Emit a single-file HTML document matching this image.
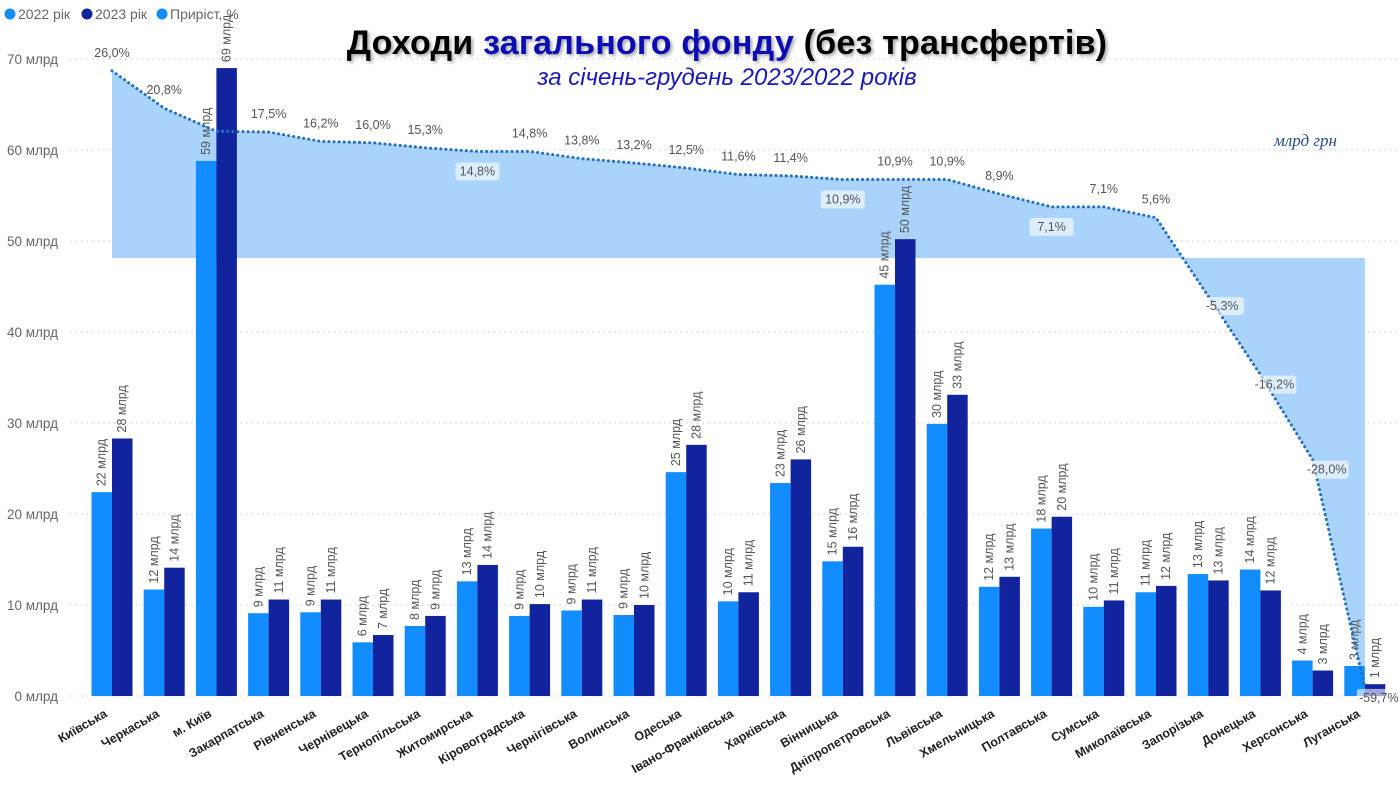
<!DOCTYPE html>
<html><head><meta charset="utf-8">
<style>
body{margin:0;background:#fff;width:1400px;height:787px;overflow:hidden;font-family:"Liberation Sans","DejaVu Sans",sans-serif}
#title{position:absolute;left:0;width:1454px;top:24px;text-align:center;font-size:34px;font-weight:bold;color:#000;text-shadow:2px 2px 3px rgba(0,0,0,0.35);letter-spacing:0.2px}
#title .b{color:#0c0cb5}
#sub{position:absolute;left:0;width:1454px;top:64px;text-align:center;font-size:24px;font-style:italic;color:#1a1ab8}
#unit{position:absolute;left:1274px;top:131px;font-family:"Liberation Serif",serif;font-style:italic;font-size:17px;color:#234e8c}
</style></head><body>
<svg id="chart" width="1400" height="787" style="position:absolute;left:0;top:0" font-family="Liberation Sans, DejaVu Sans, sans-serif"></svg>
<div id="title">Доходи <span class="b">загального фонду</span> (без трансфертів)</div>
<div id="sub">за січень-грудень 2023/2022 років</div>
<div id="unit">млрд грн</div>
<script>
const categories=["Київська","Черкаська","м. Київ","Закарпатська","Рівненська","Чернівецька","Тернопільська","Житомирська","Кіровоградська","Чернігівська","Волинська","Одеська","Івано-Франківська","Харківська","Вінницька","Дніпропетровська","Львівська","Хмельницька","Полтавська","Сумська","Миколаївська","Запорізька","Донецька","Херсонська","Луганська"];
const values2022=[22.4,11.7,58.8,9.1,9.2,5.9,7.7,12.6,8.8,9.4,8.9,24.6,10.4,23.4,14.8,45.2,29.9,12.0,18.4,9.8,11.4,13.4,13.9,3.9,3.3];
const values2023=[28.3,14.1,69.0,10.6,10.6,6.7,8.8,14.4,10.1,10.6,10.0,27.6,11.4,26.0,16.4,50.2,33.1,13.1,19.7,10.5,12.1,12.7,11.6,2.8,1.3];
const growth=[26.0,20.8,17.6,17.5,16.2,16.0,15.3,14.8,14.8,13.8,13.2,12.5,11.6,11.4,10.9,10.9,10.9,8.9,7.1,7.1,5.6,-5.3,-16.2,-28.0,-59.7];
const yTicks=[0,10,20,30,40,50,60,70];
const belowLabels=[7,14,18];
const svg=document.getElementById('chart');const NS='http://www.w3.org/2000/svg';
function mk(t,a,p){const e=document.createElementNS(NS,t);for(const k in a)e.setAttribute(k,a[k]);(p||svg).appendChild(e);return e;}
const y=v=>696-v*9.1;
const x=i=>112+i*52.2;
const yp=g=>258-g*7.2;
function fmt(v){return v.toFixed(1).replace('.',',')+'%';}
yTicks.forEach(t=>{
 const g=mk('line',{x1:70,x2:1400,y1:y(t),y2:y(t),stroke:'#c8c8c8','stroke-dasharray':'1.5 4'});
 
 const l=mk('text',{x:58,y:y(t)+5,'text-anchor':'end','font-size':13.5,fill:'#666'});l.textContent=t+' млрд';
 
});
let pts=[];growth.forEach((g,i)=>pts.push(x(i)+','+yp(g)));
const area=mk('polygon',{points:x(0)+','+yp(0)+' '+pts.join(' ')+' '+x(growth.length-1)+','+yp(0),fill:'#a9d3fb'});

categories.forEach((c,i)=>{
 const cx=x(i);
 [[values2022,'#118dff',-20.5,'bar-2022'],[values2023,'#12239e',0,'bar-2023']].forEach(([arr,col,off,nm])=>{
  const v=arr[i];
  const r=mk('rect',{x:cx+off,y:y(v),width:20.5,height:696-y(v),fill:col});
  
  const lx=cx+off+10.25+4, ly=y(v)-6;
  const t=mk('text',{x:lx,y:ly,'font-size':12.5,fill:'#555',transform:`rotate(-90 ${lx} ${ly})`});
  t.textContent=Math.round(v)+' млрд';
  
 });
 const ty=708;
 const xl=mk('text',{x:cx-4,y:ty+8,'text-anchor':'end','font-size':12.5,'font-weight':'bold',fill:'#222',transform:`rotate(-30 ${cx-4} ${ty+8})`});
 xl.textContent=c;
 
});
const line=mk('polyline',{points:pts.join(' '),fill:'none',stroke:'#1f6fc4','stroke-width':3,'stroke-dasharray':'0.1 5','stroke-linecap':'round'});

growth.forEach((g,i)=>{
 if(i===2)return;
 let lx=x(i),ly;
 const boxed=belowLabels.includes(i)||g<0;
 if(g<0){lx=x(i)+14;ly=yp(g)+14;}
 else if(belowLabels.includes(i)){ly=yp(g)+24;}
 else ly=yp(g)-14;
 if(boxed){const b=mk('rect',{x:lx-22,y:ly-13,width:44,height:18,rx:3,fill:'rgba(255,255,255,0.6)'});
  }
 const t=mk('text',{x:lx,y:ly,'text-anchor':'middle','font-size':12.5,fill:'#555'});t.textContent=fmt(g);
 
});
const leg=[['#118dff','2022 рік',5],['#12239e','2023 рік',82],['#118dff','Приріст, %',157]];
leg.forEach(([c,txt,lx])=>{
 const ci=mk('circle',{cx:lx+5,cy:14,r:5.5,fill:c});
 const t=mk('text',{x:lx+13,y:19,'font-size':14,fill:'#666'});t.textContent=txt;
 
});
</script>
</body></html>
